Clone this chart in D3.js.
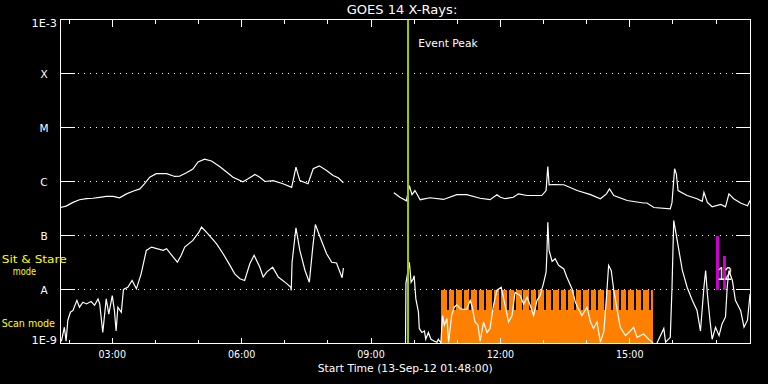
<!DOCTYPE html>
<html><head><meta charset="utf-8">
<script src="https://cdn.jsdelivr.net/npm/d3@7"></script>
<style>html,body{margin:0;padding:0;background:#000;}svg{display:block;}</style>
</head><body>
<svg id="c" width="768" height="384"></svg>
<script>
// ---------- data ----------
const titleText = "GOES 14 X-Rays:";
const xAxisTitle = "Start Time (13-Sep-12 01:48:00)";
const timeDomain = [1.8, 17.8];               // hours UT
const majorHours = [3, 6, 9, 12, 15];
const majorLabels = ["03:00", "06:00", "09:00", "12:00", "15:00"];
const minorHours = [2,3,4,5,6,7,8,9,10,11,12,13,14,15,16,17];
const levelValues = [1e-9, 1e-8, 1e-7, 1e-6, 1e-5, 1e-4, 1e-3];
const levelLabels = ["1E-9", "A", "B", "C", "M", "X", "1E-3"];
const gridLevels = [1e-8, 1e-7, 1e-6, 1e-5, 1e-4];

// long channel (1-8 A)
const longT = [1.80,1.93,2.09,2.24,2.40,2.55,2.71,2.86,3.02,3.17,3.33,3.48,3.64,3.75,3.87,4.02,4.26,4.45,4.56,4.72,
  4.87,4.99,5.14,5.30,5.49,5.65,5.80,6.03,6.15,6.31,6.42,6.54,6.73,6.96,7.16,7.26,7.35,7.54,7.66,7.80,
  7.97,8.12,8.24,8.36, 8.90,
  9.53,9.67,9.82,9.89,9.95,10.02,10.14,10.37,10.68,10.99,11.22,11.53,11.76,11.92,12.00,12.11,12.30,12.42,12.62,12.96,
  13.06,13.10,13.13,13.23,13.47,13.78,14.09,14.32,14.46,14.53,14.63,14.94,15.32,15.40,15.56,15.94,15.98,16.04,16.08,16.12,
  16.33,16.56,16.68,16.72,16.80,16.91,17.11,17.22,17.30,17.41,17.57,17.73,17.79];
const longF = [3.3e-7,3.5e-7,4.1e-7,4.6e-7,4.8e-7,4.9e-7,5.1e-7,5.3e-7,5.3e-7,5.0e-7,5.9e-7,6.6e-7,7.3e-7,9.1e-7,1.2e-6,1.4e-6,1.4e-6,1.24e-6,1.25e-6,1.45e-6,
  1.7e-6,2.3e-6,2.6e-6,2.4e-6,1.9e-6,1.5e-6,1.2e-6,9.9e-7,1.12e-6,1.35e-6,1.2e-6,1.0e-6,1.04e-6,9.1e-7,7.8e-7,1.84e-6,1.04e-6,9.1e-7,1.72e-6,1.95e-6,
  1.6e-6,1.29e-6,1.17e-6,9.5e-7, null,
  6.2e-7,5.1e-7,4.4e-7,8.4e-7,5.7e-7,6.8e-7,4.6e-7,5.0e-7,4.65e-7,5.7e-7,5.7e-7,4.9e-7,4.6e-7,5.7e-7,5.1e-7,4.8e-7,5.1e-7,5.9e-7,5.5e-7,5.5e-7,
  6.8e-7,1.9e-6,8.7e-7,8.8e-7,8.7e-7,6.8e-7,5.7e-7,4.8e-7,5.9e-7,7.3e-7,5.5e-7,4.45e-7,4.0e-7,4.0e-7,3.3e-7,3.1e-7,4.1e-7,1.72e-6,1.39e-6,6.8e-7,
  5.5e-7,4.8e-7,4.3e-7,6.3e-7,4.1e-7,3.4e-7,3.75e-7,3.4e-7,5.9e-7,4.8e-7,4.0e-7,3.55e-7,4.45e-7];

// short channel (0.5-4 A)
const shortT = [1.82,1.89,1.93,1.97,2.03,2.09,2.18,2.24,2.32,2.40,2.51,2.59,2.67,2.71,2.78,2.86,2.92,3.00,3.05,3.09,
  3.13,3.21,3.26,3.36,3.46,3.56,3.67,3.79,3.91,4.18,4.26,4.41,4.51,4.60,4.68,4.87,5.01,5.07,5.22,5.42,
  5.57,5.73,5.84,5.96,6.07,6.19,6.29,6.42,6.50,6.58,6.72,6.85,7.04,7.14,7.15,7.17,7.26,7.35,7.47,7.57,
  7.65,7.71,7.82,7.97,8.09,8.20,8.33,8.36, 9.00,
  9.80,9.81,9.89,9.93,9.98,10.00,10.04,10.10,10.12,10.18,10.24,10.27,10.33,10.39,10.47,10.53,10.56,10.62,10.66,10.70,
  10.76,10.80,10.87,10.93,10.99,11.07,11.14,11.22,11.30,11.35,11.41,11.48,11.53,11.61,11.69,11.76,11.84,11.92,12.02,12.11,
  12.19,12.27,12.34,12.46,12.54,12.62,12.69,12.77,12.85,12.92,13.00,13.06,13.08,13.10,13.13,13.20,13.27,13.35,13.47,13.54,
  13.66,13.74,13.81,13.89,14.01,14.09,14.16,14.24,14.32,14.40,14.46,14.51,14.57,14.63,14.71,14.78,14.90,15.01,15.09,15.17,
  15.32,15.44,15.52,15.60,15.79,15.83,15.94,15.98,16.02,16.06,16.14,16.22,16.33,16.45,16.56,16.64,16.72,16.76,16.80,16.86,
  16.91,16.99,17.07,17.14,17.22,17.26,17.30,17.38,17.45,17.57,17.65,17.73,17.79];
const shortF = [1.1e-9,2.0e-9,1.1e-9,2.7e-9,3.8e-9,4.1e-9,6.3e-9,4.7e-9,5.8e-9,5.4e-9,6.0e-9,5.1e-9,6.7e-9,5.4e-9,1.6e-9,6.7e-9,3.5e-9,7.7e-9,4.1e-9,1.7e-9,
  4.7e-9,3.8e-9,1.0e-8,1.1e-8,1.47e-8,1.03e-8,1.95e-8,5.3e-8,6.1e-8,5.3e-8,5.7e-8,4.0e-8,3.2e-8,4.3e-8,6.1e-8,8.1e-8,1.15e-7,1.43e-7,1.07e-7,7.0e-8,
  4.6e-8,2.8e-8,1.95e-8,1.58e-8,1.47e-8,3.0e-8,4.3e-8,2.6e-8,1.7e-8,2.1e-8,2.6e-8,1.7e-8,1.3e-8,1.1e-8,9.6e-9,3.2e-8,1.39e-7,5.3e-8,2.25e-8,1.36e-8,
  6.1e-8,1.6e-7,9.3e-8,4.6e-8,3.2e-8,3.1e-8,1.65e-8,2.5e-8, null,
  9e-10,1.3e-8,3.2e-8,1.36e-8,1.58e-8,1.8e-8,6.7e-9,3.8e-9,1.9e-9,1.6e-9,1.7e-9,1.2e-9,1.6e-9,1.2e-9,1.1e-9,1.06e-9,1.2e-9,1.03e-9,3.3e-9,2.2e-9,
  2.9e-9,1.06e-9,3.3e-9,4.7e-9,5.2e-9,4.4e-9,4.3e-9,4.3e-9,6.3e-9,4.7e-9,2.5e-9,2.2e-9,1.1e-9,2.5e-9,1.6e-9,1.9e-9,5.1e-9,9.7e-9,1.1e-8,5.1e-9,
  2.5e-9,3.3e-9,8.9e-9,7.7e-9,5.4e-9,7.2e-9,5.1e-9,3.3e-9,6.3e-9,7.7e-9,1.3e-8,2.1e-8,4.9e-8,1.76e-7,5.3e-8,3.3e-8,3.7e-8,2.8e-8,2.4e-8,1.7e-8,
  1.03e-8,5.8e-9,4.4e-9,3.3e-9,4.7e-9,2.5e-9,1.9e-9,2.5e-9,1.06e-9,1.7e-9,7.2e-9,2.8e-8,2.25e-8,9.6e-9,4.1e-9,2.0e-9,1.4e-9,1.7e-9,2.0e-9,1.3e-9,
  1.5e-9,1.2e-9,1.06e-9,9e-10,1.9e-9,1.06e-9,1.3e-9,1.1e-8,1.9e-7,1.24e-7,5.3e-8,2.25e-8,1.1e-8,6.3e-9,4.1e-9,1.7e-9,1.1e-8,2.25e-8,8.3e-9,2.7e-9,
  1.2e-9,2.0e-9,1.4e-9,2.3e-9,3.1e-9,1.1e-8,2.25e-8,1.47e-8,6.3e-9,4.1e-9,2.0e-9,2.7e-9,8.3e-9];

// scan mode frames (start hours), frame length, end of scan mode
const scanStarts = [10.628,10.801,10.975,11.148,11.322,11.495,11.669,11.842,12.016,12.189,12.363,12.536,12.709,12.883,
  13.056,13.230,13.403,13.577,13.750,13.924,14.097,14.271,14.444,14.617,14.791,14.964,15.138,15.311,15.485];
const scanDur = 0.1275;
const scanEnd = 15.539;
const scanFrameTop = 1e-8, scanBandTop = 4.2e-9;

const eventPeakT = 9.858;
const eventLabel = "Event Peak";

// sit & stare markers
const ssT = [17.035, 17.197];
const ssTop = [1e-7, 4.2e-8];
const ssBase = 1e-8;
const ssLabel = "12", ssLabelT = 17.04, ssLabelF = 1.5e-8;

const modeLabels = ["Sit & Stare", "mode", "Scan mode"];

// ---------- drawing ----------
const svg = d3.select("#c");
svg.append("rect").attr("width",768).attr("height",384).attr("fill","#000");
const L = 60.5, R = 750.5, T = 19.5, B = 343.5;
const x = d3.scaleLinear().domain(timeDomain).range([L, R]);
const y = d3.scaleLog().domain([1e-9, 1e-3]).range([B, T]);
const font = "DejaVu Sans";

svg.append("clipPath").attr("id","clip").append("rect")
  .attr("x",L).attr("y",T).attr("width",R-L).attr("height",B-T);

// dotted grid
svg.append("g").selectAll("line").data(gridLevels).join("line")
  .attr("x1",78).attr("x2",736).attr("y1",d=>y(d)).attr("y2",d=>y(d))
  .attr("stroke","#fff").attr("stroke-dasharray","1 5").attr("shape-rendering","crispEdges");

// scan mode
const scanG = svg.append("g").attr("clip-path","url(#clip)").attr("fill","#ff8000").attr("shape-rendering","crispEdges");
scanG.append("rect").attr("x",x(scanStarts[0])).attr("width",x(scanEnd)-x(scanStarts[0]))
  .attr("y",y(scanBandTop)).attr("height",y(1e-9)-y(scanBandTop));
scanG.selectAll("rect.f").data(scanStarts).join("rect").attr("class","f")
  .attr("x",d=>x(d)).attr("width",d=>x(Math.min(d+scanDur,scanEnd))-x(d))
  .attr("y",y(scanFrameTop)).attr("height",y(1e-9)-y(scanFrameTop));

// curves
const line = d3.line().defined(d=>d[1]!=null).x(d=>x(d[0])).y(d=>y(d[1]));
const cg = svg.append("g").attr("clip-path","url(#clip)");
cg.append("path").datum(longT.map((t,i)=>[t,longF[i]])).attr("d",line)
  .attr("fill","none").attr("stroke","#fff").attr("stroke-width",1.2);
cg.append("path").datum(shortT.map((t,i)=>[t,shortF[i]])).attr("d",line)
  .attr("fill","none").attr("stroke","#fff").attr("stroke-width",1.2);

// event peak
svg.append("line").attr("x1",x(eventPeakT)).attr("x2",x(eventPeakT)).attr("y1",T).attr("y2",B)
  .attr("stroke","#99cc00").attr("stroke-width",2);
svg.append("text").attr("x",x(eventPeakT)+10.3).attr("y",47).text(eventLabel)
  .attr("fill","#fff").attr("font-family",font).attr("font-size",11)
  .attr("textLength",59.4).attr("lengthAdjust","spacingAndGlyphs");

// sit & stare bars
svg.append("g").selectAll("rect").data(ssT).join("rect")
  .attr("x",d=>x(d)-1.5).attr("width",3)
  .attr("y",(d,i)=>y(ssTop[i])).attr("height",(d,i)=>y(ssBase)-y(ssTop[i]))
  .attr("fill","#cc00cc").attr("shape-rendering","crispEdges");
svg.append("text").attr("x",x(ssLabelT)).attr("y",y(ssLabelF)).text(ssLabel)
  .attr("fill","#fff").attr("font-family","Liberation Sans").attr("font-size",18).attr("font-weight",300)
  .attr("textLength",14).attr("lengthAdjust","spacingAndGlyphs");

// frame
svg.append("rect").attr("x",L).attr("y",T).attr("width",R-L).attr("height",B-T)
  .attr("fill","none").attr("stroke","#fff").attr("shape-rendering","crispEdges");

// axes ticks
function styleAxis(g){
  g.select(".domain").remove();
  g.selectAll(".tick line").attr("stroke","#fff").attr("shape-rendering","crispEdges");
  g.selectAll(".tick text").attr("fill","#fff").attr("font-family",font).attr("font-size",10.5);
}
svg.append("g").attr("transform",`translate(0,${B})`)
  .call(d3.axisBottom(x).tickValues(minorHours).tickSize(-4).tickFormat("").offset(0)).call(styleAxis);
svg.append("g").attr("transform",`translate(0,${B})`)
  .call(d3.axisBottom(x).tickValues(majorHours).tickSize(-6).tickPadding(7.5)
    .tickFormat((d,i)=>majorLabels[i]).offset(0)).call(styleAxis)
  .selectAll(".tick text").attr("textLength",27.5).attr("lengthAdjust","spacingAndGlyphs");
svg.append("g").attr("transform",`translate(0,${T})`)
  .call(d3.axisTop(x).tickValues(minorHours).tickSize(-4).tickFormat("").offset(0)).call(styleAxis);
svg.append("g").attr("transform",`translate(0,${T})`)
  .call(d3.axisTop(x).tickValues(majorHours).tickSize(-7).tickFormat("").offset(0)).call(styleAxis);
svg.append("g").attr("transform",`translate(${L},0)`)
  .call(d3.axisLeft(y).tickValues(levelValues).tickSize(-14.5).tickFormat("").offset(0)).call(styleAxis);
svg.append("g").attr("transform",`translate(${R},0)`)
  .call(d3.axisRight(y).tickValues(levelValues).tickSize(-14.5).tickFormat("").offset(0)).call(styleAxis);

// y labels
svg.append("g").selectAll("text").data(levelValues).join("text")
  .attr("x",(d,i)=>levelLabels[i].startsWith("1E") ? 57 : 44)
  .attr("y",(d,i)=> levelLabels[i]==="1E-3" ? y(d)+7.5 : levelLabels[i]==="1E-9" ? y(d)+0.5 : y(d)+4.5)
  .attr("text-anchor",(d,i)=>levelLabels[i].startsWith("1E") ? "end" : "middle")
  .attr("fill","#fff").attr("font-family",font).attr("font-size",10.5)
  .text((d,i)=>levelLabels[i])
  .each(function(d,i){ if(levelLabels[i].startsWith("1E")) d3.select(this).attr("textLength",25.5).attr("lengthAdjust","spacingAndGlyphs"); });

// titles
svg.append("text").attr("x",346.7).attr("y",14).text(titleText)
  .attr("fill","#fff").attr("font-family",font).attr("font-size",12.5)
  .attr("textLength",110.6).attr("lengthAdjust","spacingAndGlyphs");
svg.append("text").attr("x",317.7).attr("y",372).text(xAxisTitle)
  .attr("fill","#fff").attr("font-family",font).attr("font-size",11)
  .attr("textLength",175).attr("lengthAdjust","spacingAndGlyphs");

// mode labels
const modePos = [[1.7,262.5,65],[12.7,275.3,23.3],[1.7,327.3,53.3]];
svg.append("g").selectAll("text").data(modeLabels).join("text")
  .attr("x",(d,i)=>modePos[i][0]).attr("y",(d,i)=>modePos[i][1])
  .attr("textLength",(d,i)=>modePos[i][2]).attr("lengthAdjust","spacingAndGlyphs")
  .attr("fill","#ffff00").attr("font-family",font).attr("font-size",10.5).text(d=>d);
</script>
</body></html>
